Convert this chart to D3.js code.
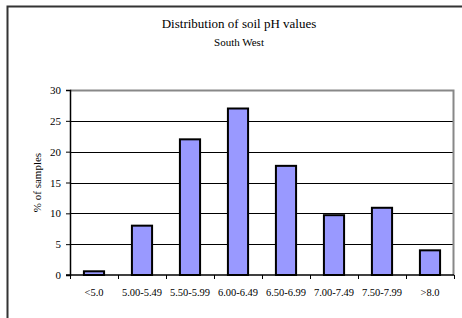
<!DOCTYPE html>
<html>
<head>
<meta charset="utf-8">
<script src="https://cdn.jsdelivr.net/npm/d3@7"></script>
<style>
  body { margin: 0; background: #fff; }
  svg { display: block; font-family: "Liberation Serif", "Times New Roman", serif; }
</style>
</head>
<body>
<div id="chart"></div>
<script>
const categories = ['<5.0', '5.00-5.49', '5.50-5.99', '6.00-6.49', '6.50-6.99', '7.00-7.49', '7.50-7.99', '>8.0'];
const percentSamples = [0.6, 8, 22, 27, 17.7, 9.7, 10.9, 4];
const yTicks = [0, 5, 10, 15, 20, 25, 30];

const width = 462, height = 318;
const margin = { top: 90, right: 8, bottom: 43, left: 70 };
const innerW = 454 - margin.left;
const innerH = 275 - margin.top;

const svg = d3.select('#chart').append('svg')
  .attr('width', width)
  .attr('height', height);

// outer chart frame
svg.append('rect')
  .attr('x', 7.5).attr('y', 6.5)
  .attr('width', 470).attr('height', 330)
  .attr('fill', 'none')
  .attr('stroke', '#333')
  .attr('stroke-width', 2);

svg.append('text')
  .attr('x', 239).attr('y', 28)
  .attr('text-anchor', 'middle')
  .attr('font-size', 13)
  .text('Distribution of soil pH values');

svg.append('text')
  .attr('x', 239).attr('y', 46)
  .attr('text-anchor', 'middle')
  .attr('font-size', 11)
  .text('South West');

const g = svg.append('g')
  .attr('transform', `translate(${margin.left},${margin.top})`);

const x = d3.scaleBand()
  .domain(categories)
  .range([0, innerW])
  .paddingInner(0.58)
  .paddingOuter(0.29);

const y = d3.scaleLinear()
  .domain([0, 30])
  .range([innerH, 0]);

// gridlines
g.append('g')
  .selectAll('line')
  .data(yTicks.filter(d => d > 0 && d < 30))
  .enter()
  .append('line')
  .attr('x1', 0).attr('x2', innerW)
  .attr('y1', d => Math.round(y(d)) + 0.5)
  .attr('y2', d => Math.round(y(d)) + 0.5)
  .attr('stroke', '#000')
  .attr('stroke-width', 1);

// plot area border (top & right)
g.append('path')
  .attr('d', `M0,0.5H${innerW - 0.5}V${innerH}`)
  .attr('fill', 'none')
  .attr('stroke', '#888')
  .attr('stroke-width', 2);

// bars
g.selectAll('rect.bar')
  .data(percentSamples)
  .enter()
  .append('rect')
  .attr('class', 'bar')
  .attr('x', (d, i) => x(categories[i]))
  .attr('y', d => y(d))
  .attr('width', x.bandwidth())
  .attr('height', d => innerH - y(d))
  .attr('fill', '#9999ff')
  .attr('stroke', '#000')
  .attr('stroke-width', 2);

// y axis
const yAxis = g.append('g')
  .call(d3.axisLeft(y).tickValues(yTicks).tickSize(4).tickPadding(5));
yAxis.select('.domain').attr('stroke', '#000').attr('stroke-width', 1.5);
yAxis.selectAll('text').attr('font-size', 11).attr('font-family', '"Liberation Serif", serif').attr('fill', '#000');

// x axis: baseline + ticks at category boundaries
const step = innerW / categories.length;
const xAxis = g.append('g').attr('transform', `translate(0,${innerH})`);
xAxis.append('line')
  .attr('x1', -4).attr('x2', innerW)
  .attr('stroke', '#000').attr('stroke-width', 1.5);
xAxis.selectAll('line.tick')
  .data(d3.range(categories.length + 1))
  .enter()
  .append('line')
  .attr('class', 'tick')
  .attr('x1', i => Math.round(i * step) + 0.5)
  .attr('x2', i => Math.round(i * step) + 0.5)
  .attr('y1', 0).attr('y2', 4)
  .attr('stroke', '#000');
xAxis.selectAll('text')
  .data(categories)
  .enter()
  .append('text')
  .attr('x', d => x(d) + x.bandwidth() / 2)
  .attr('y', 21)
  .attr('text-anchor', 'middle')
  .attr('font-size', 10.5)
  .text(d => d);

// y axis title
svg.append('text')
  .attr('transform', `translate(41,${margin.top + innerH / 2}) rotate(-90)`)
  .attr('text-anchor', 'middle')
  .attr('font-size', 11)
  .text('% of samples');
</script>
</body>
</html>
